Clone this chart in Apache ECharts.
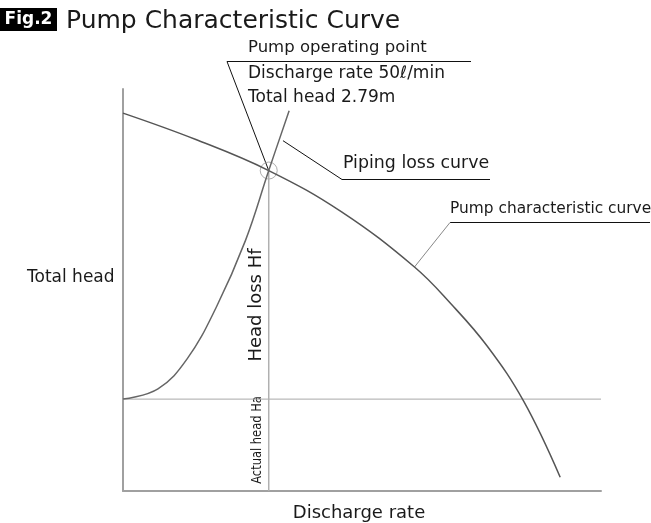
<!DOCTYPE html>
<html>
<head>
<meta charset="utf-8">
<script src="https://cdn.jsdelivr.net/npm/echarts@6/dist/echarts.min.js"></script>
<style>
  html, body { margin: 0; padding: 0; background: #fff; }
  #chart { width: 651px; height: 523px; }
</style>
</head>
<body>
<div id="chart"></div>
<script>
// Discharge rate (ℓ/min) and total head (m)
const pumpQ = [0, 25, 50, 75, 100, 112.5, 125, 137.5, 150];
const pumpH = [3.29, 3.06, 2.79, 2.43, 1.95, 1.63, 1.26, 0.78, 0.12];

const pipeQ = [0, 12, 22, 32, 42, 50, 57];
const pipeH = [0.80, 0.89, 1.15, 1.60, 2.18, 2.79, 3.31];

// Operating point and actual (static) head
const opQ = 50;
const opH = 2.79;
const actualHead = 0.80;

const xMax = 164;
const yMax = 3.5;

const FONT = '"DejaVu Sans", "Noto Sans", sans-serif';
const INK = '#1a1a1a';

const zip = (a, b) => a.map((v, i) => [v, b[i]]);

const chart = echarts.init(document.getElementById('chart'), null, { renderer: 'canvas' });

chart.setOption({
  animation: false,
  backgroundColor: '#fff',
  grid: { left: 123, right: 50, top: 89, bottom: 32 },
  xAxis: {
    type: 'value', min: 0, max: xMax,
    axisLine: { show: true, lineStyle: { color: '#a0a0a0', width: 2 } },
    axisTick: { show: false }, axisLabel: { show: false }, splitLine: { show: false }
  },
  yAxis: {
    type: 'value', min: 0, max: yMax,
    axisLine: { show: true, lineStyle: { color: '#a0a0a0', width: 2 } },
    axisTick: { show: false }, axisLabel: { show: false }, splitLine: { show: false }
  },
  series: [
    {
      name: 'Actual head', type: 'line', symbol: 'none', silent: true,
      data: [[0, actualHead], [xMax, actualHead]],
      lineStyle: { color: '#a8a8a8', width: 1 }
    },
    {
      name: 'Operating discharge', type: 'line', symbol: 'none', silent: true,
      data: [[opQ, 0], [opQ, opH]],
      lineStyle: { color: '#b0b0b0', width: 1.5 }
    },
    {
      name: 'Pump characteristic curve', type: 'line', symbol: 'none',
      smooth: 0.4,
      data: zip(pumpQ, pumpH),
      lineStyle: { color: '#555', width: 1.5 }
    },
    {
      name: 'Piping loss curve', type: 'line', symbol: 'none',
      smooth: 0.4,
      data: zip(pipeQ, pipeH),
      lineStyle: { color: '#666', width: 1.5 }
    },
    {
      name: 'Pump operating point', type: 'scatter', symbol: 'circle', symbolSize: 17,
      data: [[opQ, opH]],
      itemStyle: { color: 'rgba(0,0,0,0)', borderColor: '#999', borderWidth: 1 }
    }
  ]
});

// Annotation anchors on the curves
const px = (q, h) => chart.convertToPixel({ gridIndex: 0 }, [q, h]);
const opPx = px(opQ, opH);
const pipeAnchor = px(54.2, 3.05);
const pumpAnchor = px(100, 1.95);

const txt = (text, x, y, size, opts = {}) => Object.assign({
  type: 'text', x, y, silent: true,
  style: Object.assign({
    text, font: `${size}px ${FONT}`, fill: INK,
    align: 'left', verticalAlign: 'middle'
  }, opts.style || {})
}, opts.el || {});

const seg = (x1, y1, x2, y2, color = '#111', w = 1) => ({
  type: 'line', silent: true,
  shape: { x1, y1, x2, y2 },
  style: { stroke: color, lineWidth: w }
});

chart.setOption({
  graphic: [
    // Figure caption
    { type: 'rect', shape: { x: 0, y: 8, width: 57, height: 23 }, style: { fill: '#000' } },
    txt('Fig.2', 28.5, 20, 17, { style: { fill: '#fff', align: 'center', font: `bold 17px ${FONT}` } }),
    txt('Pump Characteristic Curve', 66, 21, 25),

    // Operating point callout
    txt('Pump operating point', 248, 48, 16.5),
    seg(227, 61.5, 471, 61.5),
    seg(227, 61.5, opPx[0], opPx[1]),
    txt('Discharge rate 50ℓ/min', 248, 74, 17),
    txt('Total head 2.79m', 248, 98, 17),

    // Piping loss curve callout
    txt('Piping loss curve', 343, 163, 17.4),
    seg(342, 179.5, 490, 179.5),
    seg(342, 179.5, pipeAnchor[0] + 2, pipeAnchor[1]),

    // Pump curve callout
    txt('Pump characteristic curve', 450, 209, 15.4),
    seg(450, 222.5, 650, 222.5),
    seg(450, 222.5, pumpAnchor[0], pumpAnchor[1], '#888'),

    // Axis titles
    txt('Total head', 27, 278, 17),
    txt('Discharge rate', 359, 513, 18, { style: { align: 'center' } }),

    // Head components along the operating discharge line
    txt('Head loss Hf', 256, 305, 18, { style: { align: 'center' }, el: { rotation: Math.PI / 2 } }),
    txt('Actual head Ha', 257, 440, 14, { style: { align: 'center' }, el: { rotation: Math.PI / 2, scaleX: 0.82 } })
  ]
});
</script>
</body>
</html>
